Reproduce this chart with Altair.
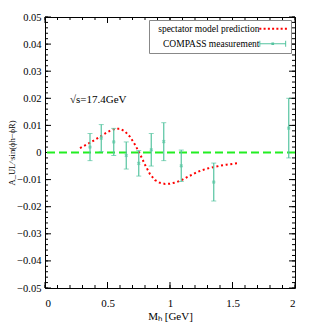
import altair as alt
import pandas as pd

# ---- data ----
curve_m = [0.28, 0.32, 0.36, 0.40, 0.44, 0.48, 0.52, 0.56, 0.60, 0.64, 0.68, 0.72,
           0.76, 0.80, 0.84, 0.88, 0.92, 0.96, 1.00, 1.05, 1.10, 1.15, 1.20, 1.25,
           1.30, 1.35, 1.40, 1.45, 1.50, 1.556]
curve_a = [0.0016, 0.0026, 0.0036, 0.0047, 0.0058, 0.0070, 0.0080, 0.0087, 0.0088,
           0.0078, 0.0058, 0.0029, -0.0006, -0.0045, -0.0080, -0.0102, -0.0112,
           -0.0116, -0.0115, -0.0110, -0.0100, -0.0088, -0.0076, -0.0066, -0.0059,
           -0.0054, -0.0049, -0.0045, -0.0042, -0.0039]

pt_m = [0.36, 0.45, 0.55, 0.65, 0.75, 0.85, 0.95, 1.09, 1.35, 1.95]
pt_a = [0.0020, 0.0053, 0.0039, -0.0011, -0.0040, 0.0010, 0.0040, -0.0049, -0.0109, 0.0090]
pt_err = [0.0050, 0.0050, 0.0050, 0.0050, 0.0047, 0.0060, 0.0070, 0.0058, 0.0070, 0.0110]

series_names = ["spectator model prediction", "COMPASS measurement"]

x_domain = [0, 2]
y_domain = [-0.05, 0.05]
x_major = [0, 0.5, 1, 1.5, 2]
x_minor = [round(i * 0.1, 1) for i in range(21)]
y_major = [-0.05, -0.04, -0.03, -0.02, -0.01, 0, 0.01, 0.02, 0.03, 0.04, 0.05]
y_minor = [round(-0.05 + 0.002 * i, 3) for i in range(51)]

annot_m = [0.2]
annot_a = [0.0194]
annot_text = ["√s=17.4GeV"]

zero_line = [0]

# ---- style / layout ----
W, H = 250, 271
RED = "#ff0000"
TEAL = "#55c4a0"
GREEN = "#22ee22"
FONT = "Liberation Serif"
TICK = "#000000"

xs = alt.Scale(domain=x_domain, nice=False, zero=False)
ys = alt.Scale(domain=y_domain, nice=False, zero=False)

x_axis = alt.Axis(values=x_major, format=".1~f", ticks=False, tickSize=0, domain=False, grid=False,
                  labelPadding=9, labelFont=FONT, labelFontSize=11, labelColor="black",
                  title="Mₕ [GeV]", titleFont=FONT, titleFontSize=11, titleFontWeight="normal",
                  titleColor="black", titlePadding=2)
y_axis = alt.Axis(values=y_major, format=".2~f", ticks=False, tickSize=0, domain=False, grid=False,
                  labelPadding=4, labelFont=FONT, labelFontSize=10.5, labelColor="black",
                  title="A_UL^sin(ϕh−ϕR)", titleFont=FONT, titleFontSize=8.5, titleFontWeight="normal",
                  titleColor="black", titlePadding=0)


def X(f="m"):
    return alt.X(f"{f}:Q", scale=xs, axis=x_axis)


def Y(f="a"):
    return alt.Y(f"{f}:Q", scale=ys, axis=y_axis)


curve_df = pd.DataFrame({"m": curve_m, "a": curve_a})
pts_df = pd.DataFrame({
    "m": pt_m, "a": pt_a,
    "lo": [a - e for a, e in zip(pt_a, pt_err)],
    "hi": [a + e for a, e in zip(pt_a, pt_err)],
})
zero_df = pd.DataFrame({"a": zero_line})
annot_df = pd.DataFrame({"m": annot_m, "a": annot_a, "t": annot_text})
legend_df = pd.DataFrame({"series": series_names, "m": [1, 1], "a": [0, 0]})

# legend symbol paths (custom shapes)
dots = "".join(f"M{x:.2f},-0.3h0.6v0.6h-0.6z" for x in [-4, -2.73, -1.46, -0.19, 1.08, 2.35, 3.62])
errp = ("M-4,-0.15H4V0.15H-4Z"
        "M-4,-0.9h0.3v1.8h-0.3z"
        "M3.7,-0.9h0.3v1.8h-0.3z"
        "M-0.4,-0.4h0.8v0.8h-0.8z")

leg = alt.Legend(
    title=None, orient="none", legendX=104, legendY=3,
    labelAlign="right", labelBaseline="middle", labelOffset={"expr": "-18"}, symbolOffset=115,
    symbolSize=45, symbolStrokeWidth=0, symbolOpacity=1,
    labelFont=FONT, labelFontSize=9.5, labelColor="black", labelLimit=200,
    fillColor="white", strokeColor="#888888", padding=4, rowPadding=4,
)

# inward frame ticks, drawn as rules from the domain edges at the tick values
x_span = x_domain[1] - x_domain[0]
y_span = y_domain[1] - y_domain[0]

ytick_rows = []
for edge, sign in [(x_domain[0], 1), (x_domain[1], -1)]:
    for vals, pix in [(y_major, 6), (y_minor, 3)]:
        for v in vals:
            ytick_rows.append({"m": edge, "m2": edge + sign * pix / W * x_span, "a": v})
xtick_rows = []
for edge, sign in [(y_domain[0], 1), (y_domain[1], -1)]:
    for vals, pix in [(x_major, 6), (x_minor, 3)]:
        for v in vals:
            xtick_rows.append({"m": v, "a": edge, "a2": edge + sign * pix / H * y_span})
ytick_df = pd.DataFrame(ytick_rows)
xtick_df = pd.DataFrame(xtick_rows)

ytk = alt.Chart(ytick_df).mark_rule(color=TICK, strokeWidth=1).encode(x=X(), x2="m2:Q", y=Y())
xtk = alt.Chart(xtick_df).mark_rule(color=TICK, strokeWidth=1).encode(x=X(), y=Y(), y2="a2:Q")

zero = alt.Chart(zero_df).mark_rule(color=GREEN, strokeWidth=2, strokeDash=[8, 4]).encode(y=Y())

curve = alt.Chart(curve_df).mark_line(color=RED, strokeWidth=2, strokeDash=[2, 2.7]).encode(x=X(), y=Y())

bars = alt.Chart(pts_df).mark_rule(color=TEAL, strokeWidth=1.2).encode(x=X(), y=Y("lo"), y2="hi:Q")
cap_lo = alt.Chart(pts_df).mark_tick(color=TEAL, orient="horizontal", size=5, thickness=1).encode(x=X(), y=Y("lo"))
cap_hi = alt.Chart(pts_df).mark_tick(color=TEAL, orient="horizontal", size=5, thickness=1).encode(x=X(), y=Y("hi"))
centers = alt.Chart(pts_df).mark_point(color=TEAL, shape="cross", angle=45, size=14, filled=True).encode(x=X(), y=Y())

annot = alt.Chart(annot_df).mark_text(align="left", baseline="middle", font=FONT, fontSize=11, color="black").encode(
    x=X(), y=Y(), text="t:N")

legend_layer = alt.Chart(legend_df).mark_point(opacity=0, filled=True).encode(
    x=X(), y=Y(),
    color=alt.Color("series:N", scale=alt.Scale(domain=series_names, range=[RED, TEAL]), legend=leg),
    shape=alt.Shape("series:N", scale=alt.Scale(domain=series_names, range=[dots, errp]), legend=leg),
)

chart = alt.layer(
    ytk, xtk, zero, curve, bars, cap_lo, cap_hi, centers, annot, legend_layer,
).properties(
    width=W, height=H,
    autosize=alt.AutoSizeParams(type="none"),
    padding={"left": 37, "top": 9, "right": 8, "bottom": 35},
    background="white",
).configure_view(stroke="black", strokeWidth=1)

chart.save("out.html", embed_options={"renderer": "svg", "actions": False})
